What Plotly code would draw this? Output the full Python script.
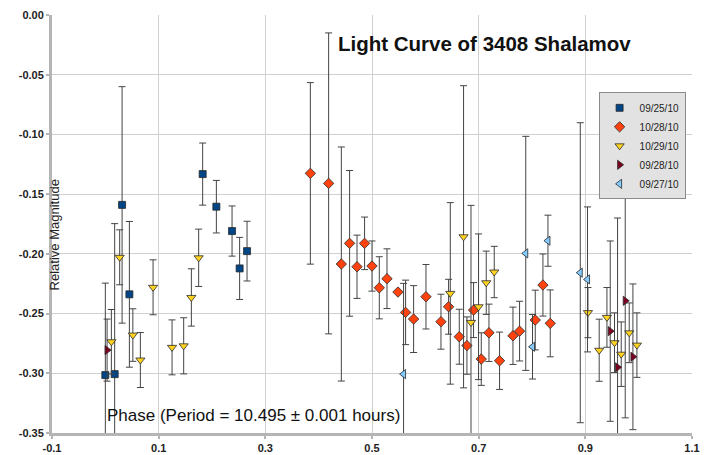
import plotly.graph_objects as go

# ---- data (phase, relative magnitude, error) ----
s1_name = "09/25/10"
s1_x = [0.000, 0.0175, 0.0314, 0.0451, 0.1825, 0.2082, 0.2376, 0.2518, 0.2657]
s1_y = [-0.3015, -0.3007, -0.159, -0.2339, -0.1332, -0.1605, -0.1809, -0.2122, -0.1977]
s1_e = [0.077, 0.126, 0.099, 0.061, 0.026, 0.022, 0.021, 0.026, 0.025]

s2_name = "10/28/10"
s2_x = [0.3844, 0.4187, 0.4425, 0.458, 0.4719, 0.4861, 0.500, 0.5137, 0.5281, 0.5487,
        0.563, 0.578, 0.6012, 0.6293, 0.6436, 0.6636, 0.678, 0.6904, 0.7049, 0.7193,
        0.7392, 0.7643, 0.7767, 0.8061, 0.8205, 0.8342]
s2_y = [-0.1326, -0.141, -0.2085, -0.1912, -0.2108, -0.1912, -0.2102, -0.2284, -0.2208, -0.232,
        -0.249, -0.2546, -0.2359, -0.2568, -0.2443, -0.2694, -0.2768, -0.2471, -0.2881, -0.2661,
        -0.2895, -0.2686, -0.2647, -0.2554, -0.2261, -0.2582]
s2_e = [0.076, 0.126, 0.098, 0.061, 0.0265, 0.022, 0.021, 0.026, 0.025, 0.0,
        0.027, 0.028, 0.027, 0.023, 0.023, 0.023, 0.024, 0.023, 0.022, 0.024,
        0.024, 0.024, 0.025, 0.025, 0.026, 0.028]

s3_name = "10/29/10"
s3_x = [0.0113, 0.0269, 0.0516, 0.0657, 0.0895, 0.1251, 0.1469, 0.1613, 0.175,
        0.6468, 0.6717, 0.6856, 0.6998, 0.7142, 0.7292,
        0.9049, 0.926, 0.9405, 0.9547, 0.9673, 0.9823, 0.9967]
s3_y = [-0.2736, -0.2029, -0.268, -0.2889, -0.228, -0.2783, -0.277, -0.2365, -0.2033,
        -0.2331, -0.1857, -0.2574, -0.2443, -0.2242, -0.2152,
        -0.2492, -0.2807, -0.2532, -0.2744, -0.284, -0.2661, -0.2764]
s3_e = [0.027, 0.023, 0.022, 0.023, 0.023, 0.023, 0.0235, 0.024, 0.024,
        0.076, 0.1265, 0.098, 0.061, 0.0265, 0.0215,
        0.021, 0.026, 0.025, 0.025, 0.027, 0.025, 0.027]

s4_name = "09/28/10"
s4_x = [0.0033, 0.9467, 0.9604, 0.9748, 0.9892]
s4_y = [-0.2806, -0.2647, -0.295, -0.2393, -0.2862]
s4_e = [0.026, 0.0755, 0.125, 0.098, 0.061]

s5_name = "09/27/10"
s5_x = [0.5592, 0.7883, 0.801, 0.8299, 0.8905, 0.9041]
s5_y = [-0.3007, -0.1996, -0.2778, -0.189, -0.2158, -0.2214]
s5_e = [0.076, 0.098, 0.027, 0.0214, 0.1256, 0.0607]

x_tick_vals = [-0.1, 0.1, 0.3, 0.5, 0.7, 0.9, 1.1]
x_tick_text = ["-0.1", "0.1", "0.3", "0.5", "0.7", "0.9", "1.1"]
y_tick_vals = [0.0, -0.05, -0.10, -0.15, -0.20, -0.25, -0.30, -0.35]
y_tick_text = ["0.00", "-0.05", "-0.10", "-0.15", "-0.20", "-0.25", "-0.30", "-0.35"]

title_text = "Light Curve of 3408 Shalamov"
x_title = "Phase (Period = 10.495 \u00b1 0.001 hours)"
y_title = "Relative Magnitude"

FONT = "Liberation Sans, Arial, sans-serif"
ERR_COLOR = "#444444"

series = [
    (s1_name, s1_x, s1_y, s1_e, "square", "#004586", 7),
    (s2_name, s2_x, s2_y, s2_e, "diamond", "#ff420e", 8),
    (s3_name, s3_x, s3_y, s3_e, "triangle-down", "#ffd320", 8),
    (s4_name, s4_x, s4_y, s4_e, "triangle-right", "#7e0021", 8),
    (s5_name, s5_x, s5_y, s5_e, "triangle-left", "#83caff", 8),
]

fig = go.Figure()
for name, xs, ys, es, sym, col, size in series:
    fig.add_trace(go.Scatter(
        x=xs, y=ys, mode="markers", name=name,
        marker=dict(symbol=sym, color=col, size=size,
                    line=dict(color="#2a2a2a", width=0.8)),
        error_y=dict(type="data", array=es, visible=True,
                     color=ERR_COLOR, thickness=1, width=3.5),
    ))

fig.update_layout(
    width=707, height=455,
    margin=dict(l=52, r=15, t=15, b=22, autoexpand=False),
    paper_bgcolor="white", plot_bgcolor="white",
    font=dict(family=FONT, color="#222222"),
    showlegend=True,
    legend=dict(
        x=0.99, xanchor="right", y=0.815, yanchor="top",
        bgcolor="#e2e2e2", bordercolor="#8a8a8a", borderwidth=1,
        font=dict(family=FONT, size=10, color="#222222"),
        itemwidth=30, tracegroupgap=0,
    ),
    annotations=[
        dict(text=title_text, xref="paper", yref="paper", x=0.6756, y=0.933,
             xanchor="center", yanchor="middle", showarrow=False,
             font=dict(family=FONT, size=20.5, color="#111111", weight="bold")),
        dict(text=x_title, xref="paper", yref="paper", x=0.3155, y=0.043,
             xanchor="center", yanchor="middle", showarrow=False,
             font=dict(family=FONT, size=17, color="#111111")),
        dict(text=y_title, xref="paper", yref="paper", x=0.0053, y=0.4737,
             xanchor="center", yanchor="middle", showarrow=False, textangle=-90,
             font=dict(family=FONT, size=13, color="#222222")),
    ],
)

fig.update_xaxes(
    range=[-0.1, 1.1], tickvals=x_tick_vals, ticktext=x_tick_text,
    showgrid=True, gridcolor="#d0d0d0", gridwidth=1, zeroline=False,
    showline=True, linecolor="#b5b5b5", linewidth=3,
    ticks="outside", ticklen=3, tickcolor="#b5b5b5", tickwidth=2,
    tickfont=dict(family=FONT, size=11, color="#222222", weight="bold"),
    automargin=False,
)
fig.update_yaxes(
    range=[-0.35, 0.0], tickvals=y_tick_vals, ticktext=y_tick_text,
    showgrid=True, gridcolor="#d0d0d0", gridwidth=1, zeroline=False,
    showline=True, linecolor="#b5b5b5", linewidth=3,
    ticks="outside", ticklen=3, tickcolor="#b5b5b5", tickwidth=2,
    tickfont=dict(family=FONT, size=11, color="#222222", weight="bold"),
    automargin=False,
)

fig.write_html("out.html",
               config={"displayModeBar": False},
               post_script="document.body.style.margin='0';document.body.style.overflow='hidden';")
